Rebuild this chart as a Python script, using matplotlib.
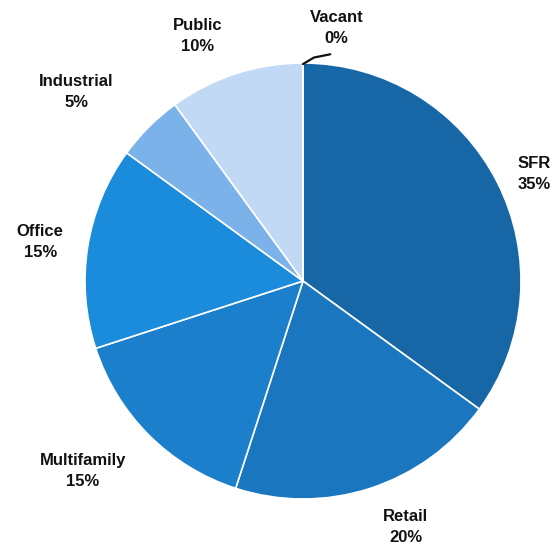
import matplotlib.pyplot as plt
import numpy as np

categories = ["SFR", "Retail", "Multifamily", "Office", "Industrial", "Public", "Vacant"]
shares = [35, 20, 15, 15, 5, 10, 0]
colors = ["#1767a6", "#1b76c0", "#1c7fcb", "#1b8cdc", "#7cb2ea", "#c2d9f6", "#c2d9f6"]

# label centres in data units (pie radius = 1)
label_pos = {
    "SFR": (1.06, 0.49),
    "Retail": (0.47, -1.13),
    "Multifamily": (-1.01, -0.87),
    "Office": (-1.205, 0.18),
    "Industrial": (-1.04, 0.865),
    "Public": (-0.485, 1.125),
    "Vacant": (0.155, 1.16),
}

fig = plt.figure(figsize=(5.59, 5.5), dpi=100)
ax = fig.add_axes([0, 0, 1, 1])
R = 218.0
cx, cy = 303.0, 281.0

ax.pie(shares, colors=colors, startangle=90, counterclock=False, radius=1.0,
       wedgeprops=dict(edgecolor="white", linewidth=1.2))

ax.set_aspect("auto")
ax.set_xlim(-cx / R, (559 - cx) / R)
ax.set_ylim(-(550 - cy) / R, cy / R)
ax.axis("off")

for cat, val in zip(categories, shares):
    x, y = label_pos[cat]
    ax.text(x, y, f"{cat}\n{val}%", ha="center", va="center", fontsize=12,
            fontweight="bold", family="Liberation Sans", linespacing=1.5, color="#111111")

# leader line for the zero slice
ax.plot([0.0, 0.05, 0.125], [0.995, 1.025, 1.04], color="#111111", lw=1.6,
        solid_capstyle="round")

fig.savefig("out.png", dpi=100)
